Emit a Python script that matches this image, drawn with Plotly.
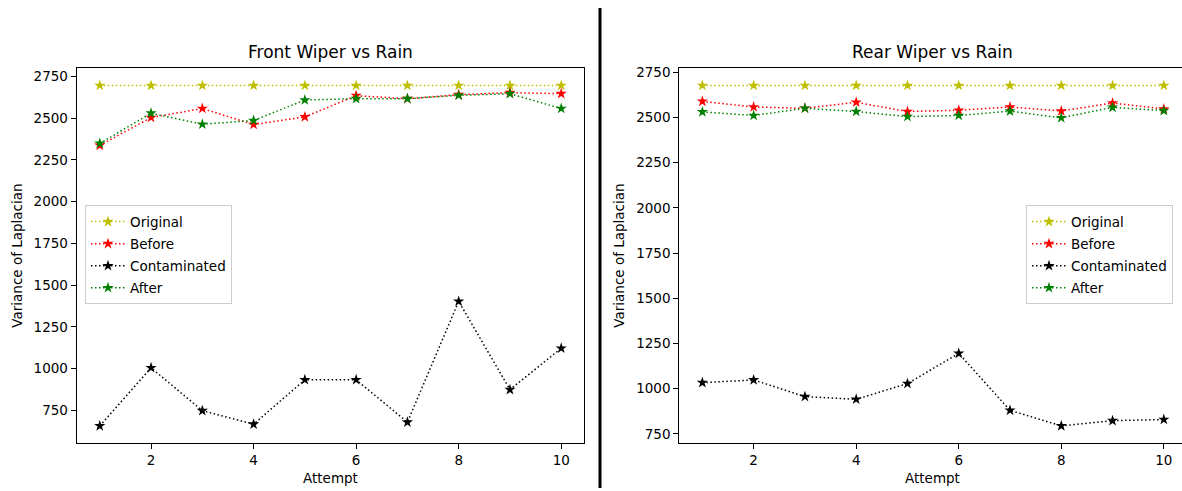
import plotly.graph_objects as go

attempts = [1, 2, 3, 4, 5, 6, 7, 8, 9, 10]
series_names = ["Original", "Before", "Contaminated", "After"]
series_colors = ["#bfbf00", "#ff0000", "#000000", "#008000"]

front_original = [2696, 2696, 2696, 2696, 2696, 2696, 2696, 2696, 2696, 2696]
front_before = [2337, 2504, 2558, 2462, 2508, 2635, 2617, 2641, 2653, 2647]
front_contaminated = [657, 1005, 748, 667, 933, 933, 679, 1403, 874, 1122]
front_after = [2349, 2530, 2464, 2486, 2609, 2617, 2617, 2637, 2647, 2558]

rear_original = [2677, 2677, 2677, 2677, 2677, 2677, 2677, 2677, 2677, 2677]
rear_before = [2589, 2558, 2551, 2584, 2533, 2540, 2558, 2536, 2580, 2547]
rear_contaminated = [1033, 1048, 956, 941, 1028, 1195, 880, 794, 823, 829]
rear_after = [2531, 2511, 2551, 2533, 2505, 2511, 2535, 2498, 2556, 2538]

titles = ["Front Wiper vs Rain", "Rear Wiper vs Rain"]
x_label = "Attempt"
y_label = "Variance of Laplacian"
x_ticks = [2, 4, 6, 8, 10]

W, H = 1182, 491
FONT = "DejaVu Sans"

front = [front_original, front_before, front_contaminated, front_after]
rear = [rear_original, rear_before, rear_contaminated, rear_after]

fig = go.Figure()

def add_series(data, xa, ya, legend, prefix):
    for name, color, vals in zip(series_names, series_colors, data):
        fig.add_trace(go.Scatter(
            x=attempts, y=vals, name=name, mode="lines+markers",
            line=dict(color=color, width=1.5, dash="1.5px,2.5px"),
            marker=dict(symbol="star", size=8.5, color=color),
            xaxis=xa, yaxis=ya, legend=legend, legendgroup=prefix + name,
        ))

add_series(front, "x", "y", "legend", "f")
add_series(rear, "x2", "y2", "legend2", "r")

def mpl_range(data):
    lo = min(min(s) for s in data)
    hi = max(max(s) for s in data)
    pad = 0.05 * (hi - lo)
    return [lo - pad, hi + pad]

def px_x(p):
    return p / W

def px_y(p):
    return 1 - p / H

y_dom = [px_y(442.5), px_y(65)]
left_dom = [px_x(76.7), px_x(584.3)]
right_left = 679.3
unit = (584.3 - 76.7) / 9.9
right_dom = [px_x(right_left), 1.0]
right_xmax = 0.55 + (W - right_left) / unit

axis_common = dict(
    showline=True, linecolor="black", linewidth=1.1,
    ticks="outside", ticklen=5, tickwidth=1.1, tickcolor="black",
    showgrid=False, zeroline=False,
    tickfont=dict(family=FONT, size=13.5, color="black"),
)

legend_common = dict(
    xanchor="left", yanchor="top",
    bgcolor="rgba(255,255,255,0.8)", bordercolor="#cccccc", borderwidth=1,
    font=dict(family=FONT, size=13.5, color="black"),
    traceorder="grouped", tracegroupgap=1.5, itemwidth=34,
)

fig.update_layout(
    width=W, height=H,
    margin=dict(l=0, r=0, t=0, b=0),
    paper_bgcolor="white", plot_bgcolor="white",
    font=dict(family=FONT, color="black"),
    xaxis=dict(domain=left_dom, range=[0.55, 10.45], tickvals=x_ticks,
               mirror=True, anchor="y", **axis_common),
    yaxis=dict(domain=y_dom, range=mpl_range(front), dtick=250,
               mirror=True, anchor="x", **axis_common),
    xaxis2=dict(domain=right_dom, range=[0.55, right_xmax], tickvals=x_ticks,
                mirror=True, anchor="y2", **axis_common),
    yaxis2=dict(domain=y_dom, range=mpl_range(rear), dtick=250,
                mirror=False, anchor="x2", **axis_common),
    showlegend=True,
    legend=dict(x=px_x(85), y=px_y(203), **legend_common),
    legend2=dict(x=px_x(1026), y=px_y(203), **legend_common),
)

annotations = []
for i, t in enumerate(titles):
    dom = left_dom if i == 0 else [px_x(right_left), px_x(1185)]
    cx = (dom[0] + dom[1]) / 2
    annotations.append(dict(text=t, x=cx, y=px_y(48), xref="paper", yref="paper",
                            showarrow=False, xanchor="center", yanchor="middle",
                            font=dict(family=FONT, size=17, color="black")))
    annotations.append(dict(text=x_label, x=cx, y=px_y(478), xref="paper", yref="paper",
                            showarrow=False, xanchor="center", yanchor="middle",
                            font=dict(family=FONT, size=13.5, color="black")))
    ylx = 17 if i == 0 else 619
    annotations.append(dict(text=y_label, x=px_x(ylx), y=(y_dom[0] + y_dom[1]) / 2,
                            xref="paper", yref="paper", textangle=-90,
                            showarrow=False, xanchor="center", yanchor="middle",
                            font=dict(family=FONT, size=13.5, color="black")))
fig.update_layout(annotations=annotations)

fig.add_shape(type="line", xref="paper", yref="paper",
              x0=px_x(600), x1=px_x(600), y0=px_y(4), y1=px_y(488),
              line=dict(color="black", width=3))

fig.write_html("out.html", config={"displayModeBar": False},
               post_script="document.body.style.margin='0';document.body.style.overflow='hidden';")
